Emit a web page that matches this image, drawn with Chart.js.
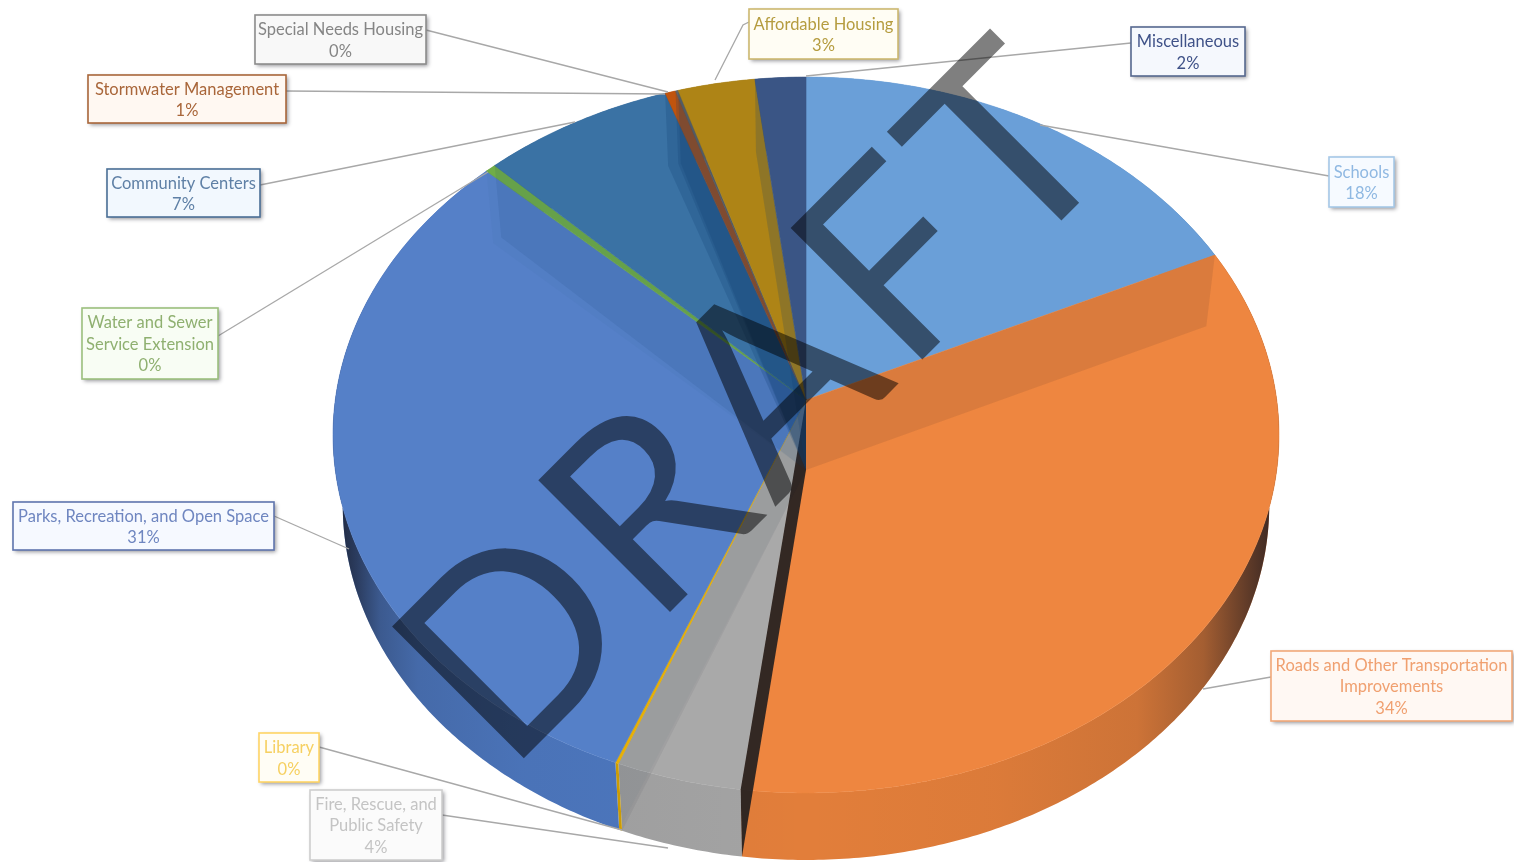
<!DOCTYPE html>
<html><head><meta charset="utf-8">
<style>html,body{margin:0;padding:0;background:#fff;overflow:hidden}
#wrap{position:absolute;left:0;top:0;width:1514px;height:862px}
canvas{filter:blur(0.65px)}</style>
<script src="https://cdn.jsdelivr.net/npm/chart.js@4"></script>
</head><body><div id="wrap"><canvas id="c" width="1514" height="862"></canvas></div>
<script>
const categories=["Schools","Roads and Other Transportation Improvements","Fire, Rescue, and Public Safety","Library","Parks, Recreation, and Open Space","Water and Sewer Service Extension","Community Centers","Stormwater Management","Special Needs Housing","Affordable Housing","Miscellaneous"];
const shares=[18,34,3.9,0.1,31.1,0.4,7.2,0.4,0.1,2.9,1.9];
const percentLabels=["18%","34%","4%","0%","31%","0%","7%","1%","0%","3%","2%"];
const sliceColors=["#6a9fd8","#ee8640","#a9a9a9","#f0b400","#5580c8","#70ad47","#3a72a4","#c0540e","#636363","#ae8416","#3a5585"];
const wallColors=["#5b8fc8","#e27e3a","#a4a4a4","#d9a400","#4d78c0","#5f9a3c","#2f5f8c","#9e480e","#555555","#8a6a10","#2a4370"];
// inner-wall darkness at the start edge of each slice
const innerWallAlpha=[0,0.09,0.86,0.06,0.03,0.03,0.1,0.22,0.2,0.2,0.2];

// callouts: line wrapping, box, leader and colours
const calloutLines=[["Schools"],["Roads and Other Transportation","Improvements"],["Fire, Rescue, and","Public Safety"],["Library"],["Parks, Recreation, and Open Space"],["Water and Sewer","Service Extension"],["Community Centers"],["Stormwater Management"],["Special Needs Housing"],["Affordable Housing"],["Miscellaneous"]];
const calloutBoxes=[[1329,157,65,50],[1271,651,241,70],[310,790,132,70],[259,733,60,49],[13,502,261,48],[82,308,136,71],[107,169,153,48],[88,75,198,48],[255,15,171,49],[749,9,149,50],[1131,27,114,49]];
const calloutLeaders=[[[1329,176],[1040,125]],[[1271,677],[1203,689]],[[442,815],[668,848]],[[319,747],[622,830]],[[274,516],[349,549]],[[218,336],[488,172]],[[260,185],[575,122]],[[286,91],[665,94]],[[426,30],[668,92]],[[749,22],[743,25],[715,80]],[[1131,43],[806,76]]];
const calloutBorder=["#a6c8e8","#f2a878","#cfcfcf","#ffd566","#5f75ae","#9cc07e","#4a6f96","#a9663a","#8c8c8c","#cdb870","#56688f"];
const calloutText=["#8fb8e2","#f0a070","#c4c4c4","#f6d061","#6f86c0","#8fb070","#5f80a6","#a9663a","#858585","#b59c3f","#3f5288"];
const calloutFill=["#f6faff","#fff8f3","#fbfbfb","#fffdf5","#f6f9ff","#f8fdf4","#f2f8fe","#fff8f2","#f8f8f8","#fffdf4","#f5f8fd"];
const watermark="DRAFT";

// Perspective projection of the unit disc, for the top face and bottom rim.
const topPlane={cx:806,c:400,a:470.7,b:315.4,k:-0.0978};
const lowPlane={cx:806,c:470,a:461,b:305.2,k:-0.0986};
function project(pl,u,v){const w=1+pl.k*v;return [pl.cx+pl.a*u/w,(pl.b*v+pl.c)/w];}
function arcPoints(pl,a0,a1){const n=Math.max(2,Math.ceil(Math.abs(a1-a0)/0.01));const p=[];for(let i=0;i<=n;i++){const a=a0+(a1-a0)*i/n;p.push(project(pl,Math.cos(a),Math.sin(a)));}return p;}
function tracePoly(ctx,pts){ctx.beginPath();pts.forEach((q,i)=>i?ctx.lineTo(q[0],q[1]):ctx.moveTo(q[0],q[1]));ctx.closePath();}

// The library's arc elements keep their scales and angles; only the flat circle is projected.
Chart.ArcElement.prototype.draw=function(ctx){
  const pts=[project(topPlane,0,0),...arcPoints(topPlane,this.startAngle,this.endAngle)];
  ctx.save();ctx.fillStyle=this.options.backgroundColor;ctx.strokeStyle=this.options.backgroundColor;ctx.lineWidth=0.6;
  tracePoly(ctx,pts);ctx.fill();ctx.stroke();ctx.restore();
};

const pie3d={id:'pie3d',
  beforeDatasetsDraw(chart){
    const ctx=chart.ctx,arcs=chart.getDatasetMeta(0).data;
    const g=ctx.createLinearGradient(333,0,1279,0);
    [[0,.85],[.025,.6],[.05,.3],[.09,.14],[.2,.05],[.5,0],[.7,.03],[.85,.1],[.92,.3],[.97,.65],[1,.85]].forEach(s=>g.addColorStop(s[0],'rgba(20,20,30,'+s[1]+')'));
    arcs.forEach((el,i)=>{
      const up=arcPoints(topPlane,el.startAngle,el.endAngle),lo=arcPoints(lowPlane,el.endAngle,el.startAngle);
      tracePoly(ctx,up.concat(lo));
      ctx.fillStyle=wallColors[i];ctx.fill();ctx.fillStyle=g;ctx.fill();
    });
  },
  afterDatasetsDraw(chart){
    const ctx=chart.ctx,arcs=chart.getDatasetMeta(0).data;
    arcs.forEach((el,i)=>{
      if(!innerWallAlpha[i])return;
      const c=Math.cos(el.startAngle),s=Math.sin(el.startAngle);
      tracePoly(ctx,[project(topPlane,0,0),project(lowPlane,0,0),project(lowPlane,c,s),project(topPlane,c,s)]);
      const tint=i<4?'20,24,30':'15,60,110';
      ctx.fillStyle='rgba('+tint+','+innerWallAlpha[i]+')';ctx.fill();
    });
  },
  afterDraw(chart){
    const ctx=chart.ctx;
    categories.forEach((name,i)=>{
      ctx.save();
      ctx.strokeStyle='#a8a8a8';ctx.lineWidth=1.3;ctx.beginPath();
      calloutLeaders[i].forEach((q,j)=>j?ctx.lineTo(q[0],q[1]):ctx.moveTo(q[0],q[1]));ctx.stroke();
      const [x,y,w,h]=calloutBoxes[i];
      ctx.shadowColor='rgba(60,60,70,.55)';ctx.shadowBlur=4;ctx.shadowOffsetX=2;ctx.shadowOffsetY=2;
      ctx.fillStyle=calloutFill[i];ctx.fillRect(x,y,w,h);
      ctx.shadowColor='transparent';
      ctx.strokeStyle=calloutBorder[i];ctx.lineWidth=1.6;ctx.strokeRect(x,y,w,h);
      const lines=calloutLines[i].concat([percentLabels[i]]);
      ctx.font='16.5px Lato, Carlito, sans-serif';ctx.fillStyle=calloutText[i];ctx.textAlign='center';ctx.textBaseline='middle';
      lines.forEach((t,j)=>ctx.fillText(t,x+w/2,y+h/2+1+(j-(lines.length-1)/2)*21.5));
      ctx.restore();
    });
    ctx.save();
    ctx.translate(507,775);ctx.rotate(-Math.PI/4);
    ctx.font='260px Lato, sans-serif';ctx.letterSpacing='9px';ctx.fillStyle='rgba(0,0,0,.5)';ctx.textAlign='left';ctx.textBaseline='alphabetic';
    ctx.fillText(watermark,0,0);
    ctx.restore();
  }
};

new Chart(document.getElementById('c'),{
  type:'pie',
  data:{labels:categories,datasets:[{data:shares,backgroundColor:sliceColors,borderWidth:0}]},
  options:{responsive:false,animation:false,plugins:{legend:{display:false},tooltip:{enabled:false}}},
  plugins:[pie3d]
});
</script></body></html>
